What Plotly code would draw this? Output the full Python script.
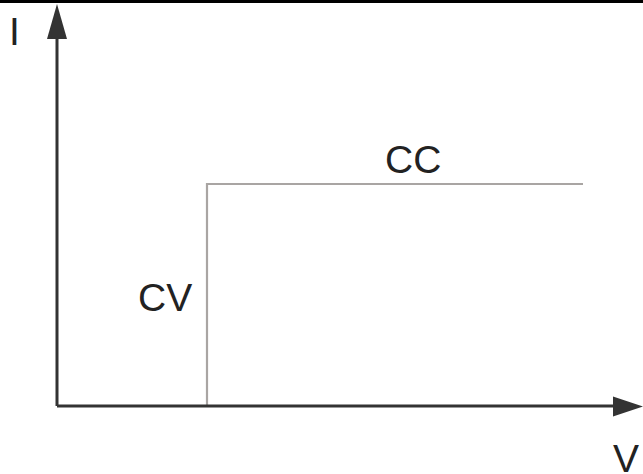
"""CV/CC characteristic (I over V) drawn with plotly."""
import plotly.graph_objects as go

# step curve of the supply: constant voltage up to the current limit, then constant current
volts = [3.0, 3.0, 10.52]
amps = [0.0, 3.0, 3.0]

region_labels = ["CV", "CC"]
region_x = [2.16, 7.12]
region_y = [1.46, 3.33]

axis_labels = ["I", "V"]

W, H = 643, 474
# data range covering the whole canvas (origin sits at pixel 57, 406)
X0, X1 = -57 / 50, (W - 57) / 50
Y0, Y1 = -(H - 406) / 74, 406 / 74


def px_x(p):
    return X0 + p * (X1 - X0) / W


def px_y(p):
    return Y1 - p * (Y1 - Y0) / H


AXIS = "#333333"
STEP = "#a9a5a3"
FONT = dict(family="Liberation Sans, Arial, sans-serif", size=39, color="#222222")

fig = go.Figure()
fig.add_trace(go.Scatter(
    x=volts, y=amps, mode="lines",
    line=dict(color=STEP, width=2.2), hoverinfo="skip", showlegend=False,
))

shapes = [
    # axes
    dict(type="line", x0=0, y0=0, x1=px_x(616), y1=0, line=dict(color=AXIS, width=3)),
    dict(type="line", x0=0, y0=0, x1=0, y1=px_y(36), line=dict(color=AXIS, width=3)),
    # arrow heads
    dict(type="path", fillcolor=AXIS, line=dict(width=0),
         path=f"M {px_x(613)} {px_y(396.5)} L {px_x(643)} {px_y(406.5)} L {px_x(613)} {px_y(416.5)} Z"),
    dict(type="path", fillcolor=AXIS, line=dict(width=0),
         path=f"M {px_x(47)} {px_y(39)} L {px_x(57)} {px_y(4)} L {px_x(67)} {px_y(39)} Z"),
    # top rule
    dict(type="rect", xref="paper", yref="paper", x0=0, x1=1, y0=1 - 3 / H, y1=1,
         fillcolor="#000000", line=dict(width=0)),
]

annotations = [
    dict(x=x, y=y, text=t, showarrow=False, font=FONT)
    for t, x, y in zip(region_labels, region_x, region_y)
]
annotations.append(dict(x=px_x(14), y=px_y(31), text=axis_labels[0], showarrow=False, font=FONT))
annotations.append(dict(x=px_x(626), y=px_y(458), text=axis_labels[1], showarrow=False, font=FONT))

fig.update_layout(
    width=W, height=H,
    margin=dict(l=0, r=0, t=0, b=0),
    paper_bgcolor="white", plot_bgcolor="white",
    xaxis=dict(range=[X0, X1], visible=False, fixedrange=True),
    yaxis=dict(range=[Y0, Y1], visible=False, fixedrange=True),
    shapes=shapes,
    annotations=annotations,
)

# the page body has a default 8px margin; drop it so the canvas fills the window
fig.write_html("out.html", post_script="document.body.style.margin = '0';",
               config={"displayModeBar": False})
